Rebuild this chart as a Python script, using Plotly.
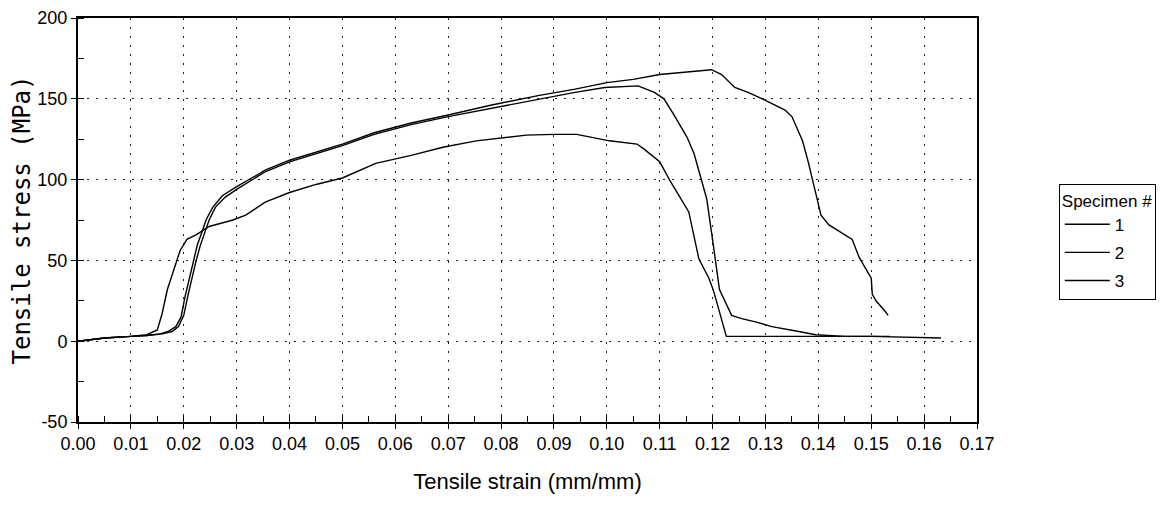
import plotly.graph_objects as go

# ---------------- data ----------------
spec_names = ["1", "2", "3"]

strain_1 = [0.000, 0.005, 0.010, 0.013, 0.0155, 0.017, 0.0185, 0.0195, 0.0202, 0.0209,
            0.0217, 0.0226, 0.0235, 0.0242, 0.0255, 0.0273, 0.0297, 0.033, 0.0355, 0.040,
            0.045, 0.050, 0.056, 0.063, 0.070, 0.078, 0.087, 0.094, 0.100, 0.105,
            0.110, 0.1165, 0.1198, 0.1217, 0.1242, 0.1267, 0.1294, 0.1337, 0.135, 0.137,
            0.138, 0.1394, 0.1405, 0.142, 0.144, 0.1464, 0.1477, 0.149, 0.150, 0.1502,
            0.1509, 0.1525, 0.1532]
stress_1 = [0, 2, 3, 3.5, 4.5, 6, 9, 15, 27, 37,
            48, 60, 68, 75, 83, 90, 95, 101, 106, 112,
            117, 122, 129, 135, 140, 146, 152, 156, 160, 162,
            165, 167, 168, 165, 157, 154, 150, 143, 139, 124,
            112, 93, 78, 72, 68, 63, 52, 45, 39, 29,
            25, 19, 16]

strain_2 = [0.000, 0.005, 0.010, 0.013, 0.016, 0.0178, 0.019, 0.0200, 0.0207, 0.0214,
            0.0222, 0.0231, 0.0240, 0.0248, 0.026, 0.0278, 0.030, 0.033, 0.0355, 0.040,
            0.045, 0.050, 0.056, 0.063, 0.070, 0.078, 0.087, 0.094, 0.0996, 0.1059,
            0.109, 0.1108, 0.1127, 0.1152, 0.1165, 0.1179, 0.1189, 0.1202, 0.1213, 0.1236,
            0.1255, 0.1281, 0.1312, 0.1363, 0.1395, 0.1450, 0.1535]
stress_2 = [0, 2, 3, 3.5, 4.5, 6, 9, 16, 27, 37,
            48, 59, 68, 75, 83, 89, 94, 100, 105, 111,
            116, 121, 128, 134, 139, 144, 150, 154, 157, 158,
            154, 150, 140, 126, 116, 100, 88, 58, 32, 16,
            14, 12, 9, 6, 4, 3, 3]

strain_3 = [0.000, 0.005, 0.010, 0.013, 0.0150, 0.0159, 0.0169, 0.0181, 0.0193, 0.0206,
            0.0224, 0.0248, 0.0293, 0.0317, 0.0354, 0.040, 0.045, 0.050, 0.0563, 0.063,
            0.069, 0.0753, 0.0848, 0.090, 0.0943, 0.1005, 0.1057, 0.107, 0.110, 0.112,
            0.1155, 0.1174, 0.1193, 0.1202, 0.1211, 0.1226, 0.130, 0.140, 0.150, 0.1632]
stress_3 = [0, 2, 3, 4, 7, 17, 32, 44, 56, 63,
            66, 71, 75, 78, 86, 92, 97, 101, 110, 115,
            120, 124, 127.5, 128, 128, 124, 122, 119, 111, 99,
            80, 51, 39, 31, 21, 3, 3, 3, 3, 2]

x_ticks = [round(i * 0.01, 2) for i in range(18)]
x_tick_text = ["%.2f" % v for v in x_ticks]
y_ticks = [-50, 0, 50, 100, 150, 200]
y_tick_text = ["-50", "0", "50", "100", "150", "200"]

series = [(spec_names[0], strain_1, stress_1),
          (spec_names[1], strain_2, stress_2),
          (spec_names[2], strain_3, stress_3)]

# ---------------- figure ----------------
fig = go.Figure()
for name, xs, ys in series:
    fig.add_trace(go.Scatter(x=xs, y=ys, mode="lines", name=name, legendgroup="s" + name,
                             line=dict(color="black", width=1.4)))

sans = "Liberation Sans, Arial, sans-serif"
tick_font = dict(family=sans, size=18, color="black")

# the page body has an 8px default margin, so margins are reduced by 8px
fig.update_layout(
    width=1166, height=519,
    margin=dict(l=70, r=197, t=10, b=105),
    paper_bgcolor="white", plot_bgcolor="white",
    showlegend=True,
    legend=dict(
        title=dict(text="Specimen #", font=dict(family=sans, size=17, color="black")),
        font=dict(family=sans, size=17, color="black"),
        x=1.091, y=0.59, xanchor="left", yanchor="top",
        itemwidth=45, tracegroupgap=3,
        bordercolor="black", borderwidth=1, bgcolor="white",
    ),
    xaxis=dict(
        range=[0, 0.17], tickmode="array", tickvals=x_ticks, ticktext=x_tick_text,
        automargin=False,
        showline=True, linecolor="black", linewidth=1.5, mirror=True,
        ticks="outside", ticklen=5, tickcolor="black",
        minor=dict(dtick=0.005, ticks="inside", ticklen=6, tickcolor="black", showgrid=False),
        showgrid=True, gridcolor="#222", gridwidth=1, griddash="2px,7px",
        zeroline=False, tickfont=tick_font,
        title=dict(text="Tensile strain (mm/mm)", standoff=20,
                   font=dict(family=sans, size=22, color="black")),
    ),
    yaxis=dict(
        range=[-50, 200], tickmode="array", tickvals=y_ticks, ticktext=y_tick_text,
        automargin=False,
        showline=True, linecolor="black", linewidth=2, mirror=True,
        ticks="outside", ticklen=5, tickcolor="black",
        minor=dict(dtick=25, ticks="inside", ticklen=6, tickcolor="black", showgrid=False),
        showgrid=True, gridcolor="#222", gridwidth=1, griddash="2px,7px",
        zeroline=False, tickfont=tick_font,
        title=dict(text="Tensile stress (MPa)", standoff=3,
                   font=dict(family="DejaVu Sans Mono, monospace", size=24, color="black")),
    ),
)

fig.write_html("out.html")
